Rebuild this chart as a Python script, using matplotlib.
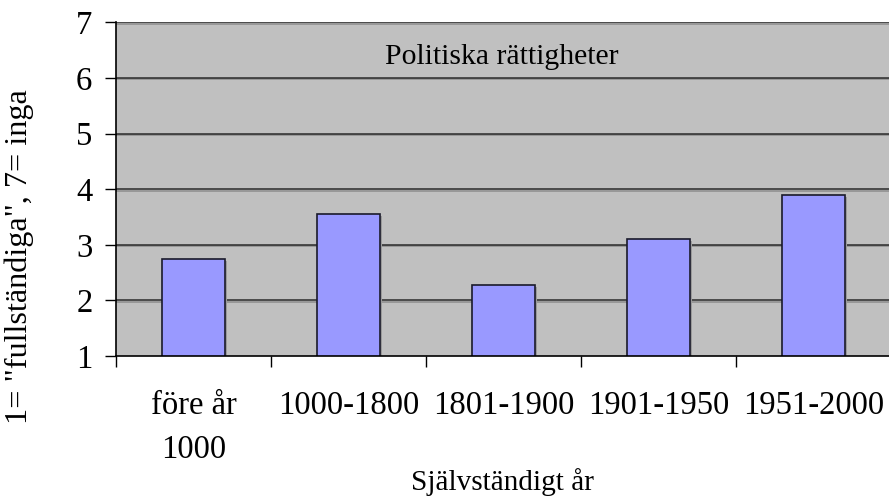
import matplotlib
matplotlib.use("Agg")
import matplotlib.pyplot as plt
import matplotlib.patheffects as pe
import numpy as np

categories = ["före år\n1000", "1000-1800", "1801-1900", "1901-1950", "1951-2000"]
values = [2.75, 3.55, 2.28, 3.11, 3.90]
yticks = [1, 2, 3, 4, 5, 6, 7]

plt.rcParams['font.family'] = ['Liberation Serif', 'DejaVu Serif']

fig = plt.figure(figsize=(8.89, 5.01), dpi=100)
ax = fig.add_axes([116/889, 1-356/501, (891-116)/889, (356-22.4)/501])
ax.set_facecolor('#C0C0C0')

x = np.arange(len(categories))
ax.set_xlim(-0.5, len(categories) - 0.5)
ax.set_ylim(1, 7)

for yv in yticks[1:]:
    ax.axhline(yv, color='#2a2a2a', lw=1.1, zorder=1,
               path_effects=[pe.SimpleLineShadow(offset=(0, -1.0), shadow_color='#8c8c8c', alpha=1.0), pe.Normal()])

bars = ax.bar(x, values, width=0.41, bottom=0, color='#9999FF', edgecolor='#1a1a2a', linewidth=1.2, zorder=3)
for b in bars:
    b.set_path_effects([pe.SimplePatchShadow(offset=(1.5, -1.5), shadow_rgbFace='#9a9a9a', alpha=1.0), pe.Normal()])

ax.set_yticks(yticks)
ax.set_yticklabels([str(v) for v in yticks], fontsize=23.5)
ax.tick_params(axis='y', length=8, width=1, pad=9, color='black')

ax.set_xticks(x)
ax.set_xticklabels(categories, fontsize=23.5, linespacing=1.55)
ax.tick_params(axis='x', which='major', length=0, pad=25)
ax.set_xticks(np.arange(-0.5, len(categories), 1.0), minor=True)
ax.tick_params(axis='x', which='minor', length=8, width=1, color='black')

for s in ['top', 'right']:
    ax.spines[s].set_visible(False)
ax.spines['left'].set_color('black')
ax.spines['left'].set_linewidth(1.2)
ax.spines['bottom'].set_color('black')
ax.spines['bottom'].set_linewidth(1.2)
ax.spines['left'].set_zorder(5)
ax.spines['bottom'].set_zorder(5)

ax.text(0.5 * (len(categories) - 1) - 0.01, 6.38, "Politiska rättigheter", ha='center', va='center', fontsize=21.4, zorder=4)

fig.text(502/889, 1-482/501, "Självständigt år", ha='center', va='center', fontsize=21.1)
fig.text(19/889, 1-257/501, '1= "fullständiga", 7= inga', ha='center', va='center', rotation=90, fontsize=23.2)

fig.savefig("out.png", dpi=100)
